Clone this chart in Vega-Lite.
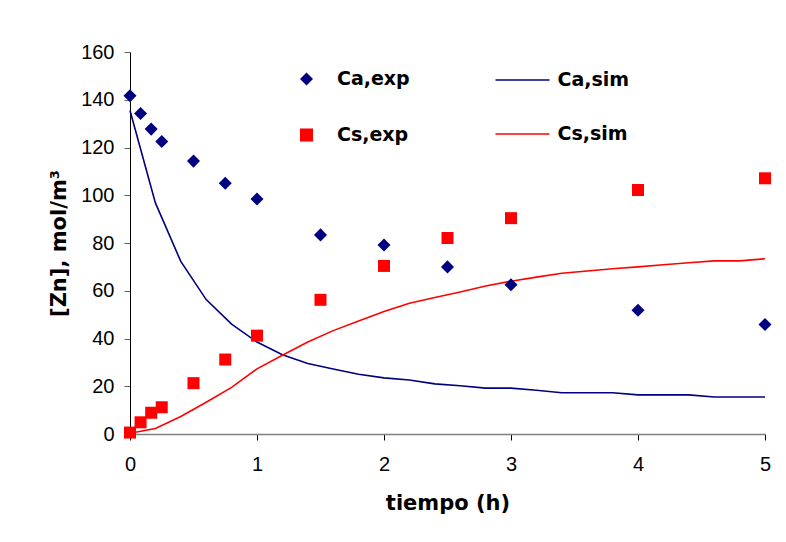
{
  "$schema": "https://vega.github.io/schema/vega-lite/v6.json",
  "width": 635,
  "height": 382,
  "autosize": "none",
  "padding": {"left": 130, "top": 52, "right": 21, "bottom": 108},
  "background": "white",
  "config": {
    "view": {"stroke": null},
    "axis": {"grid": false, "labelFlush": false, "labelOverlap": false}
  },
  "datasets": {
    "exp": [
      {"t": 0, "c": 141.7, "serie": "Ca,exp"},
      {"t": 0.0833, "c": 134.2, "serie": "Ca,exp"},
      {"t": 0.1667, "c": 127.7, "serie": "Ca,exp"},
      {"t": 0.25, "c": 122.5, "serie": "Ca,exp"},
      {"t": 0.5, "c": 114.3, "serie": "Ca,exp"},
      {"t": 0.75, "c": 105, "serie": "Ca,exp"},
      {"t": 1, "c": 98.4, "serie": "Ca,exp"},
      {"t": 1.5, "c": 83.4, "serie": "Ca,exp"},
      {"t": 2, "c": 79.2, "serie": "Ca,exp"},
      {"t": 2.5, "c": 70, "serie": "Ca,exp"},
      {"t": 3, "c": 62.5, "serie": "Ca,exp"},
      {"t": 4, "c": 51.8, "serie": "Ca,exp"},
      {"t": 5, "c": 45.9, "serie": "Ca,exp"},
      {"t": 0, "c": 0.6, "serie": "Cs,exp"},
      {"t": 0.0833, "c": 4.9, "serie": "Cs,exp"},
      {"t": 0.1667, "c": 8.9, "serie": "Cs,exp"},
      {"t": 0.25, "c": 11.2, "serie": "Cs,exp"},
      {"t": 0.5, "c": 21.3, "serie": "Cs,exp"},
      {"t": 0.75, "c": 31.2, "serie": "Cs,exp"},
      {"t": 1, "c": 41.2, "serie": "Cs,exp"},
      {"t": 1.5, "c": 56.2, "serie": "Cs,exp"},
      {"t": 2, "c": 70.4, "serie": "Cs,exp"},
      {"t": 2.5, "c": 82.1, "serie": "Cs,exp"},
      {"t": 3, "c": 90.4, "serie": "Cs,exp"},
      {"t": 4, "c": 102.2, "serie": "Cs,exp"},
      {"t": 5, "c": 107.1, "serie": "Cs,exp"}
    ],
    "sim": [
      {"t": 0, "c": 135.5, "curva": "Ca,sim"},
      {"t": 0.2, "c": 96.8, "curva": "Ca,sim"},
      {"t": 0.4, "c": 72.3, "curva": "Ca,sim"},
      {"t": 0.6, "c": 56.3, "curva": "Ca,sim"},
      {"t": 0.8, "c": 46, "curva": "Ca,sim"},
      {"t": 1.0, "c": 38.5, "curva": "Ca,sim"},
      {"t": 1.2, "c": 33.2, "curva": "Ca,sim"},
      {"t": 1.4, "c": 29.5, "curva": "Ca,sim"},
      {"t": 1.6, "c": 27.2, "curva": "Ca,sim"},
      {"t": 1.8, "c": 25, "curva": "Ca,sim"},
      {"t": 2.0, "c": 23.5, "curva": "Ca,sim"},
      {"t": 2.2, "c": 22.6, "curva": "Ca,sim"},
      {"t": 2.4, "c": 21, "curva": "Ca,sim"},
      {"t": 2.6, "c": 20.2, "curva": "Ca,sim"},
      {"t": 2.8, "c": 19.2, "curva": "Ca,sim"},
      {"t": 3.0, "c": 19.2, "curva": "Ca,sim"},
      {"t": 3.2, "c": 18.3, "curva": "Ca,sim"},
      {"t": 3.4, "c": 17.3, "curva": "Ca,sim"},
      {"t": 3.6, "c": 17.3, "curva": "Ca,sim"},
      {"t": 3.8, "c": 17.3, "curva": "Ca,sim"},
      {"t": 4.0, "c": 16.4, "curva": "Ca,sim"},
      {"t": 4.2, "c": 16.4, "curva": "Ca,sim"},
      {"t": 4.4, "c": 16.4, "curva": "Ca,sim"},
      {"t": 4.6, "c": 15.5, "curva": "Ca,sim"},
      {"t": 4.8, "c": 15.5, "curva": "Ca,sim"},
      {"t": 5.0, "c": 15.5, "curva": "Ca,sim"},
      {"t": 0, "c": 0.3, "curva": "Cs,sim"},
      {"t": 0.2, "c": 2.3, "curva": "Cs,sim"},
      {"t": 0.4, "c": 7.3, "curva": "Cs,sim"},
      {"t": 0.6, "c": 13.3, "curva": "Cs,sim"},
      {"t": 0.8, "c": 19.5, "curva": "Cs,sim"},
      {"t": 1.0, "c": 27.3, "curva": "Cs,sim"},
      {"t": 1.2, "c": 33, "curva": "Cs,sim"},
      {"t": 1.4, "c": 38.5, "curva": "Cs,sim"},
      {"t": 1.6, "c": 43.3, "curva": "Cs,sim"},
      {"t": 1.8, "c": 47.3, "curva": "Cs,sim"},
      {"t": 2.0, "c": 51.3, "curva": "Cs,sim"},
      {"t": 2.2, "c": 54.8, "curva": "Cs,sim"},
      {"t": 2.4, "c": 57.2, "curva": "Cs,sim"},
      {"t": 2.6, "c": 59.5, "curva": "Cs,sim"},
      {"t": 2.8, "c": 62, "curva": "Cs,sim"},
      {"t": 3.0, "c": 64, "curva": "Cs,sim"},
      {"t": 3.2, "c": 65.7, "curva": "Cs,sim"},
      {"t": 3.4, "c": 67.3, "curva": "Cs,sim"},
      {"t": 3.6, "c": 68.3, "curva": "Cs,sim"},
      {"t": 3.8, "c": 69.2, "curva": "Cs,sim"},
      {"t": 4.0, "c": 70, "curva": "Cs,sim"},
      {"t": 4.2, "c": 70.9, "curva": "Cs,sim"},
      {"t": 4.4, "c": 71.7, "curva": "Cs,sim"},
      {"t": 4.6, "c": 72.5, "curva": "Cs,sim"},
      {"t": 4.8, "c": 72.5, "curva": "Cs,sim"},
      {"t": 5.0, "c": 73.4, "curva": "Cs,sim"}
    ]
  },
  "encoding": {
    "x": {
      "field": "t",
      "type": "quantitative",
      "scale": {"domain": [0, 5], "nice": false, "zero": false},
      "axis": {
        "values": [0, 1, 2, 3, 4, 5],
        "format": "d",
        "title": "tiempo (h)",
        "domainColor": "#808080",
        "domainWidth": 1.5,
        "tickColor": "#000000",
        "tickSize": 6,
        "labelFont": "Liberation Sans",
        "labelFontSize": 20,
        "labelColor": "#000000",
        "labelPadding": 14,
        "titleFont": "DejaVu Sans",
        "titleFontWeight": "bold",
        "titleFontSize": 21,
        "titleColor": "#000000",
        "titleY": 69,
        "titleBaseline": "middle"
      }
    },
    "y": {
      "field": "c",
      "type": "quantitative",
      "scale": {"domain": [0, 160], "nice": false},
      "axis": {
        "values": [0, 20, 40, 60, 80, 100, 120, 140, 160],
        "title": "[Zn], mol/m³",
        "domainColor": "#000000",
        "tickColor": "#606060",
        "tickSize": 6,
        "labelFont": "Liberation Sans",
        "labelFontSize": 20,
        "labelColor": "#000000",
        "labelPadding": 10,
        "titleFont": "DejaVu Sans",
        "titleFontWeight": "bold",
        "titleFontSize": 21,
        "titleColor": "#000000",
        "titleX": -71,
        "titleY": 191,
        "titleAngle": 270,
        "titleBaseline": "middle",
        "titleAlign": "center"
      }
    }
  },
  "layer": [
    {
      "data": {"name": "sim"},
      "mark": {"type": "line", "strokeWidth": 1.6, "clip": false},
      "encoding": {
        "stroke": {
          "field": "curva",
          "type": "nominal",
          "scale": {"domain": ["Ca,sim", "Cs,sim"], "range": ["#000080", "#FF0000"]},
          "legend": {
            "orient": "none",
            "legendX": 364.5,
            "legendY": 0,
            "title": null,
            "padding": 0,
            "symbolType": "stroke",
            "symbolSize": 2916,
            "symbolStrokeWidth": 1.6,
            "labelOffset": 7,
            "rowPadding": 16,
            "labelFont": "DejaVu Sans",
            "labelFontSize": 19,
            "labelFontWeight": "bold",
            "labelColor": "#000000"
          }
        }
      }
    },
    {
      "data": {"name": "exp"},
      "transform": [{"filter": "datum.serie === 'Cs,exp'"}],
      "mark": {"type": "point", "filled": true, "opacity": 1, "size": 144, "clip": false},
      "encoding": {
        "fill": {
          "field": "serie",
          "type": "nominal",
          "scale": {"domain": ["Ca,exp", "Cs,exp"], "range": ["#000080", "#FF0000"]},
          "legend": {
            "orient": "none",
            "legendX": 167,
            "legendY": 17.5,
            "title": null,
            "padding": 0,
            "symbolSize": 170,
            "symbolOpacity": 1,
            "symbolStrokeWidth": 0,
            "labelOffset": 21,
            "rowPadding": 36,
            "labelFont": "DejaVu Sans",
            "labelFontSize": 19,
            "labelFontWeight": "bold",
            "labelColor": "#000000"
          }
        },
        "shape": {
          "field": "serie",
          "type": "nominal",
          "scale": {"domain": ["Ca,exp", "Cs,exp"], "range": ["diamond", "square"]}
        }
      }
    },
    {
      "data": {"name": "exp"},
      "transform": [{"filter": "datum.serie === 'Ca,exp'"}],
      "mark": {"type": "point", "filled": true, "opacity": 1, "size": 170, "clip": false},
      "encoding": {
        "fill": {"field": "serie", "type": "nominal"},
        "shape": {"field": "serie", "type": "nominal"}
      }
    }
  ]
}
